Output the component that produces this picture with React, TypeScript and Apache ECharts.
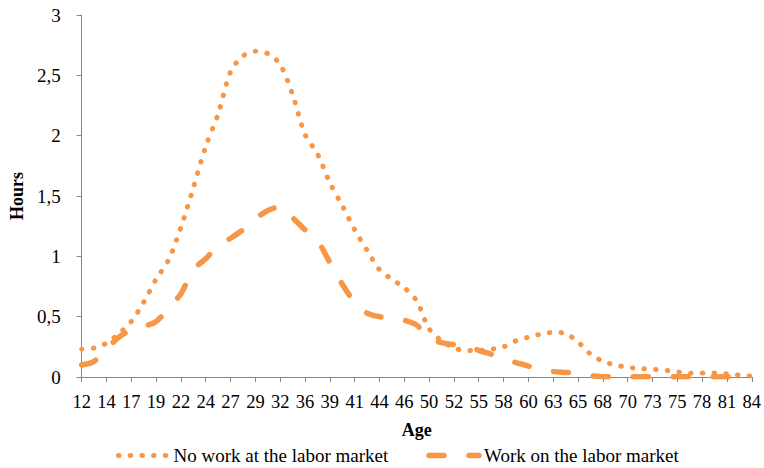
import React, { useEffect, useRef } from "react";
import * as echarts from "echarts";

const ages = [
  "12", "13", "14", "15", "17", "18", "19", "20", "22", "23", "24", "25", "27", "28",
  "29", "30", "32", "34", "36", "37", "39", "40", "41", "42", "44", "45", "46", "48",
  "50", "51", "52", "53", "55", "56", "58", "59", "60", "61", "63", "64", "65", "66",
  "68", "69", "70", "71", "73", "74", "75", "76", "78", "79", "81", "82", "84",
];

const noWork = [
  0.23, 0.24, 0.28, 0.36, 0.46, 0.62, 0.81, 0.97, 1.24, 1.57, 1.91, 2.18, 2.53, 2.66,
  2.7, 2.68, 2.59, 2.34, 2.01, 1.85, 1.61, 1.42, 1.22, 1.05, 0.89, 0.81, 0.74, 0.63,
  0.4, 0.3, 0.24, 0.22, 0.22, 0.23, 0.25, 0.3, 0.33, 0.355, 0.37, 0.36, 0.29, 0.19,
  0.13, 0.1, 0.08, 0.07, 0.064, 0.056, 0.042, 0.032, 0.033, 0.033, 0.027, 0.015, 0.007,
];

const work = [
  0.1, 0.13, 0.23, 0.33, 0.39, 0.42, 0.46, 0.57, 0.69, 0.89, 0.98, 1.09, 1.15, 1.22,
  1.31, 1.38, 1.41, 1.32, 1.22, 1.13, 0.95, 0.77, 0.62, 0.53, 0.5, 0.49, 0.47, 0.43,
  0.32, 0.285, 0.27, 0.27, 0.22, 0.19, 0.15, 0.12, 0.09, 0.065, 0.045, 0.038, 0.03, 0.01,
  0.003, 0.002, 0.002, 0.002, 0.002, 0.002, 0.002, 0.002, 0.002, 0.002, 0.002, 0.002, 0.002,
];

const seriesNames = ["No work at the labor market", "Work on the labor market"];

const ORANGE = "#F79646";
const AXIS = "#868686";
const FONT = "'Liberation Serif', 'Times New Roman', serif";

const dottedStyle = { color: ORANGE, width: 5, type: [0.5, 11.2], cap: "round" };
const dashedStyle = { color: ORANGE, width: 5.5, type: [15, 25], cap: "round" };

export default function App() {
  const ref = useRef<HTMLDivElement>(null);

  useEffect(() => {
    if (!ref.current) return;
    const chart = echarts.init(ref.current, undefined, { renderer: "svg" });
    chart.setOption({
      animation: false,
      backgroundColor: "#ffffff",
      textStyle: { fontFamily: FONT, color: "#000" },
      grid: { left: 69, top: 15, width: 686, height: 362, containLabel: false },
      legend: {
        left: 116,
        top: 446,
        padding: 0,
        itemWidth: 50,
        itemHeight: 19,
        itemGap: 38,
        itemStyle: { opacity: 0 },
        textStyle: { fontFamily: FONT, fontSize: 19, color: "#000" },
        data: [
          { name: seriesNames[0], lineStyle: dottedStyle, itemStyle: { opacity: 0 } },
          { name: seriesNames[1], lineStyle: dashedStyle, itemStyle: { opacity: 0 } },
        ],
      },
      xAxis: {
        type: "category",
        data: ages,
        boundaryGap: false,
        name: "Age",
        nameLocation: "middle",
        nameGap: 44,
        nameTextStyle: { fontFamily: FONT, fontSize: 18, fontWeight: "bold", color: "#000" },
        axisLine: { lineStyle: { color: AXIS, width: 1 } },
        axisTick: { interval: 1, length: 5, lineStyle: { color: AXIS } },
        axisLabel: { interval: 1, margin: 15, fontFamily: FONT, fontSize: 18.5, color: "#000" },
        splitLine: { show: false },
      },
      yAxis: {
        type: "value",
        min: 0,
        max: 3,
        interval: 0.5,
        name: "Hours",
        nameLocation: "middle",
        nameGap: 42,
        nameRotate: 90,
        nameTextStyle: { fontFamily: FONT, fontSize: 18, fontWeight: "bold", color: "#000" },
        axisLine: { show: true, lineStyle: { color: AXIS, width: 1 } },
        axisTick: { show: true, length: 5, lineStyle: { color: AXIS } },
        axisLabel: {
          margin: 21,
          fontFamily: FONT,
          fontSize: 19,
          color: "#000",
          formatter: (v: number) => String(v).replace(".", ","),
        },
        splitLine: { show: false },
      },
      series: [
        {
          name: seriesNames[0],
          type: "line",
          data: noWork,
          symbol: "none",
          smooth: 0.3,
          color: ORANGE,
          lineStyle: dottedStyle,
        },
        {
          name: seriesNames[1],
          type: "line",
          data: work,
          symbol: "none",
          smooth: 0.3,
          color: ORANGE,
          lineStyle: dashedStyle,
        },
      ],
    });
    return () => chart.dispose();
  }, []);

  return <div ref={ref} style={{ width: 764, height: 468, position: "absolute", left: 0, top: 0 }} />;
}
